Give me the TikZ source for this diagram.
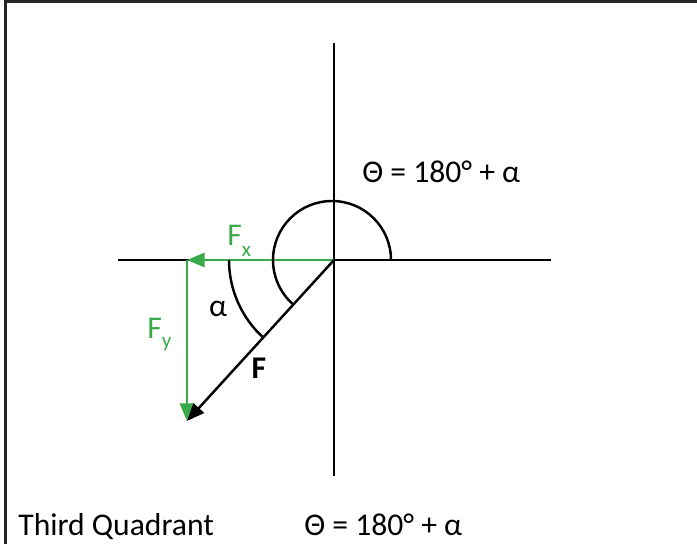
\documentclass[tikz,border=0pt]{standalone}
\usepackage{fontspec}
\setmainfont{Carlito}
\usetikzlibrary{arrows.meta}
\definecolor{vgreen}{RGB}{57,170,73}
\tikzset{
  axis/.style={line width=1.4pt, black},
  anglearc/.style={line width=1.4pt, black},
  vec/.style={line width=1.4pt, -{Triangle[length=10pt,width=8pt]}},
  gvec/.style={vec, vgreen, line width=1.6pt},
  lbl/.style={inner sep=0pt, font=\fontsize{18}{21}\selectfont},
  frame/.style={line width=1.6pt, black!85},
}
\newcommand{\subtxt}[2]{\raisebox{-#1}{\fontsize{12}{14}\selectfont #2}}
\begin{document}
\begin{tikzpicture}[x=0.02cm,y=-0.02cm]
\useasboundingbox (0,0) rectangle (697,544);
% frame
\coordinate (TL) at (5.5,1.5);
\coordinate (TR) at (697,1.5);
\coordinate (BL) at (5.5,544);
\draw[frame] (TR) -- (TL) -- (BL);
% axes
\coordinate (O) at (334,260);
\coordinate (XL) at (118,260);
\coordinate (XR) at (551,260);
\coordinate (YT) at (334,43);
\coordinate (YB) at (334,476);
\draw[axis] (XL) -- (XR);
\draw[axis] (YT) -- (YB);
% vectors
\coordinate (Fx) at (187,260);
\coordinate (Ftip) at (187,421);
\draw[gvec] (O) -- (Fx);
\draw[gvec] (Fx) -- (Ftip);
\draw[vec] (O) -- (Ftip);
% angle arcs
\draw[anglearc] (O) ++(57,0) arc[start angle=0, end angle=-227.8, radius=59];
\draw[anglearc] (O) ++(-105,0) arc[start angle=180, end angle=132.2, radius=105];
% labels
\node[lbl, anchor=base west, text=vgreen] (lfx) at (227,245) {F\subtxt{6.5pt}{x}};
\node[lbl, anchor=base west, text=vgreen] (lfy) at (147,338) {F\subtxt{5.5pt}{y}};
\node[lbl] (lalpha) at (218,309) {α};
\node[lbl, font=\fontsize{18}{21}\selectfont\bfseries] (lF) at (259,368) {F};
\node[lbl, anchor=base west] (ltheta) at (362,183) {Θ = 180° + α};
\node[lbl, anchor=base west] (lquad) at (18,535) {Third Quadrant};
\node[lbl, anchor=base west] (lform) at (304,535) {Θ = 180° + α};
\end{tikzpicture}
\end{document}
